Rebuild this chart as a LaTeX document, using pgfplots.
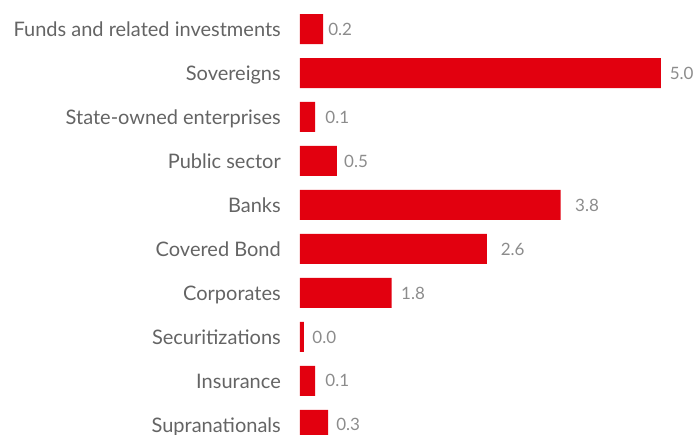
\documentclass[border=0pt]{standalone}
\usepackage{fontspec}
\setmainfont{Lato}
\usepackage{pgfplots}
\usepackage{pgfplotstable}
\pgfplotsset{compat=1.18}

\definecolor{barred}{RGB}{226,0,15}
\definecolor{catgray}{RGB}{100,100,100}
\definecolor{valgray}{RGB}{140,140,140}

% len = drawn bar length, lab = printed value, lx = where the value label starts
\pgfplotstableread{
y len lab lx
0 0.32 0.2 0.39
1 5.00 5.0 5.12
2 0.21 0.1 0.35
3 0.51 0.5 0.61
4 3.61 3.8 3.81
5 2.59 2.6 2.78
6 1.27 1.8 1.40
7 0.055 0.0 0.17
8 0.21 0.1 0.35
9 0.39 0.3 0.50
}\datatable

\begin{document}
\begin{tikzpicture}
    \begin{axis}[
            scale only axis,
            width=397pt,
            height=435pt,
            xmin=0, xmax=5.50,
            ymin=-0.66, ymax=9.23,
            y dir=reverse,
            axis x line=none,
            axis y line*=left,
            y axis line style={draw=none},
            major tick length=0pt,
            ytick={0,...,9},
            yticklabels={Funds and related investments,Sovereigns,State-owned enterprises,Public sector,Banks,Covered Bond,Corporates,Securitizations,Insurance,Supranationals},
            yticklabel style={inner sep=0pt, xshift=-19pt, anchor=base east, yshift=-7.2pt,
                font=\fontsize{20}{22}\selectfont, text=catgray},
            xtick=\empty,
            clip=false,
        ]
        \addplot[xbar, bar width=30pt, bar shift=0pt, fill=barred, draw=none]
            table[x=len, y=y] {\datatable};
        \addplot[draw=none, mark=none, nodes near coords,
            point meta=explicit symbolic,
            nodes near coords align={anchor=base west},
            every node near coord/.append style={inner sep=0pt, yshift=-6.1pt,
                font=\fontsize{17}{19}\selectfont, text=valgray}]
            table[x=lx, y=y, meta=lab] {\datatable};
    \end{axis}
    \pgfresetboundingbox
    \path (current axis.south west) ++(-300pt,0pt) rectangle (current axis.north east);
\end{tikzpicture}
\end{document}
